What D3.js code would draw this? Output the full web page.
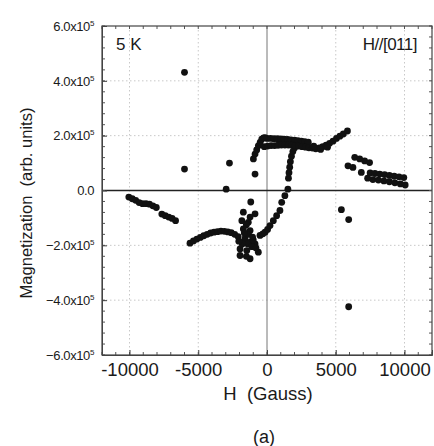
<!DOCTYPE html>
<html>
<head>
<meta charset="utf-8">
<script src="https://cdn.jsdelivr.net/npm/d3@7"></script>
<style>
  body { margin: 0; background: #fff; overflow: hidden; }
  #chart { position: relative; width: 434px; height: 446px; }
  svg { display: block; }
  svg text { font-family: "Liberation Sans", Arial, sans-serif; fill: #1a1a1a; }
  .ytitle {
    position: absolute; left: 18px; top: 203px;
    font-family: "Liberation Sans", Arial, sans-serif; font-size: 16.5px; color: #1a1a1a;
    white-space: pre; line-height: 1;
    transform: translate(0, -50%) rotate(180deg);
    writing-mode: vertical-rl;
  }
</style>
</head>
<body>
<div id="chart"></div>
<script>
const width = 434;
const height = 446;
const margin = {top: 26, right: 2, bottom: 91, left: 102};

// field H (Gauss) and magnetization (x10^5 arb. units)
const fieldH = [
  // descending left branch
  -10050, -9800, -9550, -9300, -9050, -8800, -8550, -8300, -8050,
  -7650, -7400, -7150, -6900, -6650,
  // lower curve
  -5600, -5350, -5100, -4850, -4600, -4350, -4100, -3850, -3600, -3350, -3100, -2850, -2600, -2350, -2100,
  // cluster near -1500
  -1960, -1960, -1720, -1470, -1230, -1230, -870, -630, -1720, -1230, -1830, -1360, -1720, -870, -1230, -1180,
  -1600, -1400, -1100, -1000, -800, -1500, -1800, -2050, -1350, -1050, -1500, -1650,
  // rising branch
  -510, -300, -140, 40, 220, 460, 700, 940, 1070, 1300, 1520, 1560, 1600, 1650, 1700, 1780, 1880, 2000, 2150,
  // upper branch left part
  -990, -870, -750, -630, -500, -380, -250, -140,
  // plateau upper row
  0, 250, 500, 750, 1000, 1250, 1500, 1750, 2000, 2250, 2500, 2750, 3000,
  // plateau lower row
  -200, 50, 300, 550, 800, 1050, 1300, 1550, 1800, 2050, 2300, 2550, 2800, 3050,
  // right rising part
  3300, 3550, 3800, 4050, 4300, 4550, 4800, 5050, 5300, 5550, 5850, 3400, 3900, 4400,
  // right cluster
  5890, 6250, 6380, 6740, 7100, 7460, 6860, 7320,
  7500, 7850, 8200, 8550, 8900, 9250, 9600, 9950,
  7700, 8100, 8500, 8900, 9300, 9700, 10050,
  // isolated points
  -6000, -6000, -2730, -2970, -870, 5410, 5940, 5940
];
const magnet = [
  -0.24, -0.30, -0.36, -0.44, -0.48, -0.48, -0.50, -0.56, -0.62,
  -0.86, -0.92, -0.97, -1.02, -1.10,
  -1.92, -1.84, -1.77, -1.71, -1.65, -1.60, -1.55, -1.52, -1.50, -1.48, -1.49, -1.51, -1.54, -1.60, -1.68,
  -2.13, -2.37, -1.88, -2.19, -2.49, -1.88, -1.95, -2.25, -1.40, -1.46, -1.10, -1.16, -0.79, -0.85, -0.97, -0.42,
  -1.75, -1.95, -2.05, -1.80, -2.10, -2.40, -1.95, -1.85, -1.60, -1.70, -1.25, -1.55,
  -1.64, -1.58, -1.52, -1.42, -1.28, -1.10, -0.92, -0.73, -0.43, -0.19, 0.05, 0.45, 0.65, 0.85, 1.05, 1.25, 1.42, 1.55, 1.65,
  1.15, 1.33, 1.48, 1.63, 1.75, 1.87, 1.92, 1.93,
  1.90, 1.90, 1.89, 1.89, 1.88, 1.87, 1.86, 1.85, 1.84, 1.82, 1.80, 1.78, 1.76,
  1.60, 1.62, 1.64, 1.64, 1.65, 1.66, 1.66, 1.66, 1.65, 1.64, 1.62, 1.60, 1.58, 1.56,
  1.55, 1.52, 1.55, 1.60, 1.65, 1.72, 1.80, 1.90, 1.98, 2.06, 2.17, 1.62, 1.50, 1.58,
  0.90, 0.84, 1.21, 1.15, 1.08, 1.02, 0.66, 0.45,
  0.64, 0.62, 0.60, 0.58, 0.55, 0.52, 0.50, 0.47,
  0.40, 0.38, 0.35, 0.32, 0.28, 0.24, 0.20,
  4.31, 0.78, 1.00, 0.05, 0.60, -0.70, -1.06, -4.24
];

const xTicks = [-10000, -5000, 0, 5000, 10000];
const yTicks = [-6, -4, -2, 0, 2, 4, 6];
const xMinor = d3.range(-12000, 12001, 1000);
const yMinor = d3.range(-6, 6.01, 0.4);

const svg = d3.select("#chart")
    .append("svg")
    .attr("width", width)
    .attr("height", height);

const x = d3.scaleLinear()
    .domain([-12000, 12000])
    .range([margin.left, width - margin.right]);

const y = d3.scaleLinear()
    .domain([-6, 6])
    .range([height - margin.bottom, margin.top]);

const x0 = margin.left, x1 = width - margin.right;
const y0 = margin.top, y1 = height - margin.bottom;

// dotted grid
svg.append("g")
    .selectAll("line")
    .data(xTicks.filter(d => d !== 0))
    .enter().append("line")
    .attr("x1", d => x(d)).attr("x2", d => x(d))
    .attr("y1", y0).attr("y2", y1)
    .attr("stroke", "#c8c8c8")
    .attr("stroke-dasharray", "1.5,2.5");
svg.append("g")
    .selectAll("line")
    .data(yTicks.filter(d => d !== 0 && Math.abs(d) !== 6))
    .enter().append("line")
    .attr("x1", x0).attr("x2", x1)
    .attr("y1", d => y(d)).attr("y2", d => y(d))
    .attr("stroke", "#c8c8c8")
    .attr("stroke-dasharray", "1.5,2.5");

// zero lines
svg.append("line")
    .attr("x1", x(0)).attr("x2", x(0))
    .attr("y1", y0).attr("y2", y1)
    .attr("stroke", "#777").attr("stroke-width", 1);
svg.append("line")
    .attr("x1", x0).attr("x2", x1)
    .attr("y1", y(0)).attr("y2", y(0))
    .attr("stroke", "#222").attr("stroke-width", 1.3);

// minor ticks on all four sides, pointing inwards
const minor = svg.append("g").attr("stroke", "#555");
xMinor.forEach(v => {
    minor.append("line").attr("x1", x(v)).attr("x2", x(v)).attr("y1", y1).attr("y2", y1 - 3);
    minor.append("line").attr("x1", x(v)).attr("x2", x(v)).attr("y1", y0).attr("y2", y0 + 3);
});
yMinor.forEach(v => {
    minor.append("line").attr("x1", x0).attr("x2", x0 + 3).attr("y1", y(v)).attr("y2", y(v));
    minor.append("line").attr("x1", x1).attr("x2", x1 - 3).attr("y1", y(v)).attr("y2", y(v));
});

// axes
const xAxis = svg.append("g")
    .attr("transform", `translate(0,${y1})`)
    .call(d3.axisBottom(x).tickValues(xTicks).tickSize(-5).tickPadding(8)
        .tickFormat(d => d < 0 ? "-" + Math.abs(d) : String(d)));
xAxis.selectAll("text").style("font-size", "18.5px");

const yAxis = svg.append("g")
    .attr("transform", `translate(${x0},0)`)
    .call(d3.axisLeft(y).tickValues(yTicks).tickSize(-5).tickPadding(8).tickFormat(""));
yAxis.selectAll(".tick text").each(function(d) {
    const t = d3.select(this).style("font-size", "13px").attr("letter-spacing", "-0.4");
    if (d === 0) {
        t.text("0.0");
    } else {
        t.text(d3.format(".1f")(d) + "x10");
        t.append("tspan").attr("dy", "-5").style("font-size", "8px").text("5");
    }
});
svg.selectAll(".domain").attr("stroke", "#444");
svg.selectAll(".tick line").attr("stroke", "#444");

// frame
svg.append("rect")
    .attr("x", x0).attr("y", y0)
    .attr("width", x1 - x0).attr("height", y1 - y0)
    .attr("fill", "none").attr("stroke", "#444").attr("stroke-width", 1.2);

// points
svg.append("g")
    .selectAll("circle")
    .data(fieldH.map((h, i) => [h, magnet[i]]))
    .enter().append("circle")
    .attr("cx", d => x(d[0]))
    .attr("cy", d => y(d[1]))
    .attr("r", 3.4)
    .attr("fill", "#111");

// labels
svg.append("text")
    .attr("x", 116).attr("y", 50)
    .style("font-size", "17px")
    .text("5 K");
svg.append("text")
    .attr("x", 417).attr("y", 50)
    .attr("text-anchor", "end")
    .style("font-size", "17px")
    .attr("letter-spacing", "-0.5")
    .text("H//[011]");

svg.append("text")
    .attr("x", 268).attr("y", 400)
    .attr("text-anchor", "middle")
    .style("font-size", "18.5px")
    .text("H\u00a0 (Gauss)");

d3.select("#chart").append("div")
    .attr("class", "ytitle")
    .text("Magnetization  (arb. units)");

svg.append("text")
    .attr("x", 264).attr("y", 443)
    .attr("text-anchor", "middle")
    .style("font-size", "18px")
    .text("(a)");
</script>
</body>
</html>
